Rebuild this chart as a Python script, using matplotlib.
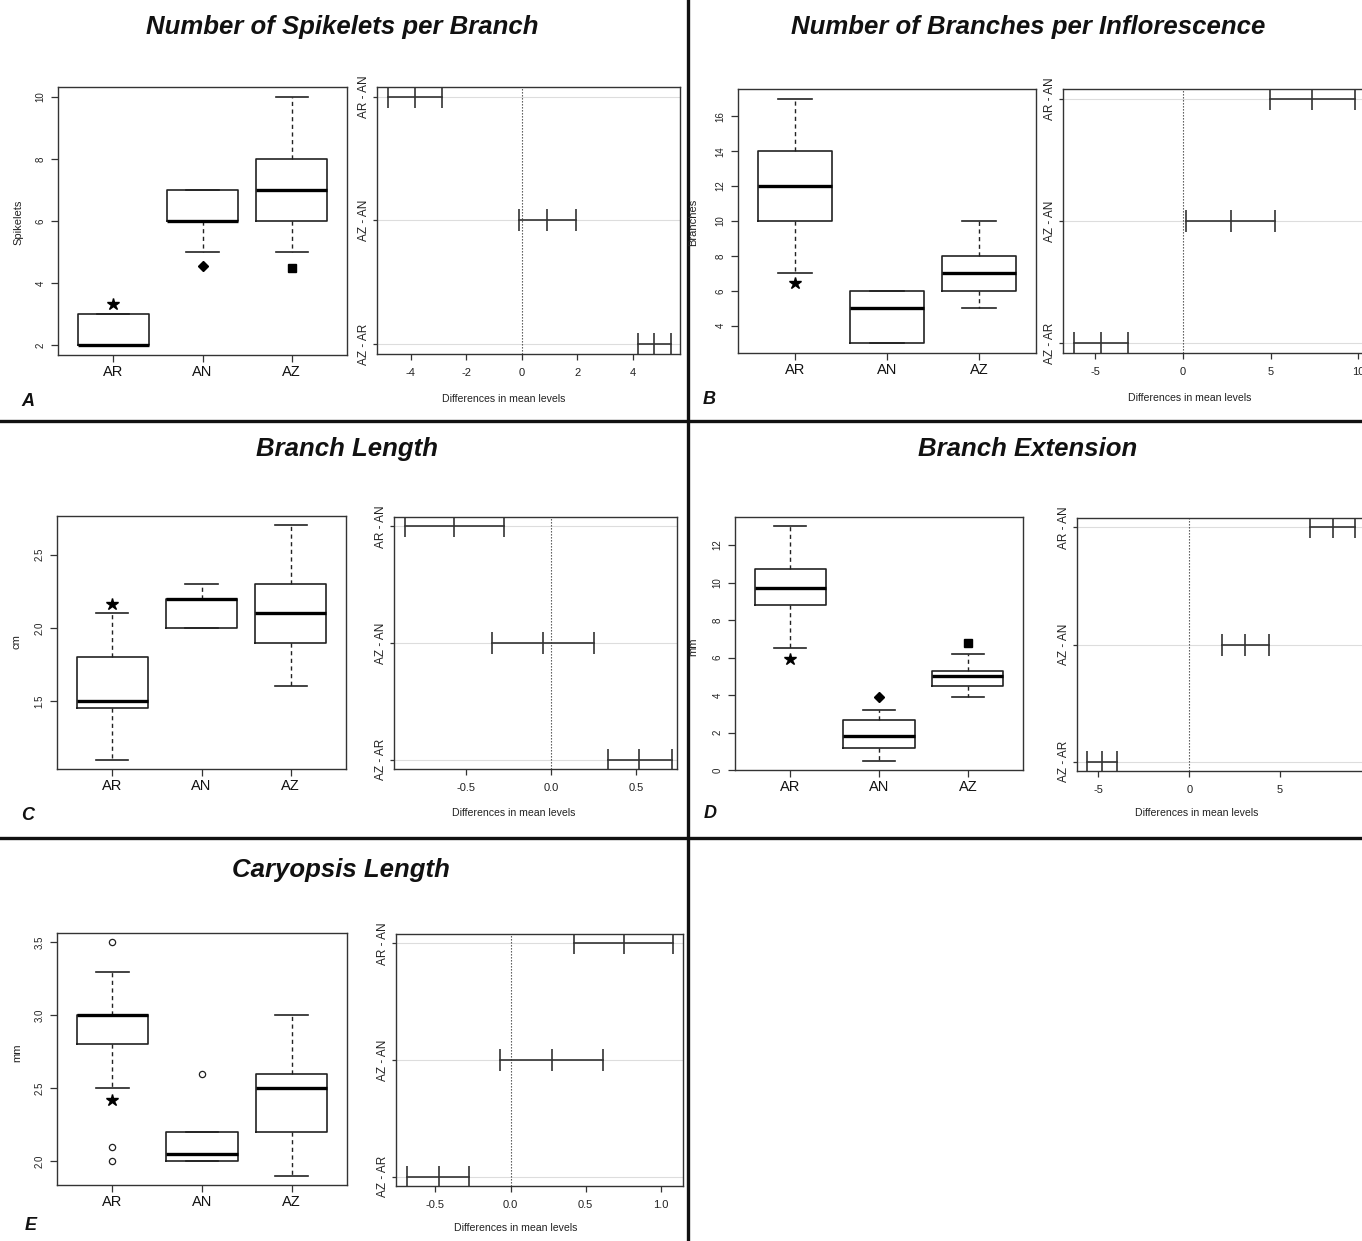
import matplotlib
matplotlib.use('Agg')
import matplotlib.pyplot as plt
from matplotlib.lines import Line2D
from matplotlib.ticker import FormatStrFormatter

plt.rcParams['font.family'] = ['Liberation Sans', 'DejaVu Sans']

W, H = 1362, 1241

groups = ["AR", "AN", "AZ"]
comparisons = ["AR - AN", "AZ - AN", "AZ - AR"]
marker_kinds = ["*", "D", "s"]

# ---------------- Panel A : Number of Spikelets per Branch ----------------
a_q1 = [2, 6, 6]
a_med = [2, 6, 7]
a_q3 = [3, 7, 8]
a_lo = [2, 5, 5]
a_hi = [3, 7, 10]
a_fliers = [[], [], []]
a_marks = [3.32, 4.55, 4.49]
a_lwr = [-4.83, -0.10, 4.17]
a_diff = [-3.85, 0.92, 4.78]
a_upr = [-2.87, 1.95, 5.38]

# ---------------- Panel B : Number of Branches per Inflorescence ----------
b_q1 = [10, 3, 6]
b_med = [12, 5, 7]
b_q3 = [14, 6, 8]
b_lo = [7, 3, 5]
b_hi = [17, 6, 10]
b_fliers = [[], [], []]
b_marks = [6.44, None, None]
b_lwr = [4.98, 0.17, -6.18]
b_diff = [7.36, 2.74, -4.66]
b_upr = [9.79, 5.27, -3.10]

# ---------------- Panel C : Branch Length ---------------------------------
c_q1 = [1.45, 2.0, 1.9]
c_med = [1.5, 2.2, 2.1]
c_q3 = [1.8, 2.2, 2.3]
c_lo = [1.1, 2.0, 1.6]
c_hi = [2.1, 2.3, 2.7]
c_fliers = [[], [], []]
c_marks = [2.16, None, None]
c_lwr = [-0.863, -0.351, 0.333]
c_diff = [-0.573, -0.049, 0.518]
c_upr = [-0.281, 0.251, 0.709]

# ---------------- Panel D : Branch Extension ------------------------------
d_q1 = [8.8, 1.18, 4.48]
d_med = [9.7, 1.84, 5.0]
d_q3 = [10.75, 2.68, 5.27]
d_lo = [6.5, 0.5, 3.9]
d_hi = [13.0, 3.2, 6.2]
d_fliers = [[], [], []]
d_marks = [5.9, 3.9, 6.8]
d_lwr = [6.66, 1.82, -5.61]
d_diff = [7.91, 3.08, -4.81]
d_upr = [9.14, 4.38, -3.99]

# ---------------- Panel E : Caryopsis Length ------------------------------
e_q1 = [2.8, 2.0, 2.2]
e_med = [3.0, 2.05, 2.5]
e_q3 = [3.0, 2.2, 2.6]
e_lo = [2.5, 2.0, 1.9]
e_hi = [3.3, 2.2, 3.0]
e_fliers = [[3.5, 2.1, 2.0], [2.6], []]
e_marks = [2.42, None, None]
e_lwr = [0.423, -0.069, -0.688]
e_diff = [0.753, 0.275, -0.480]
e_upr = [1.081, 0.614, -0.275]

titles = ["Number of Spikelets per Branch", "Number of Branches per Inflorescence",
          "Branch Length", "Branch Extension", "Caryopsis Length"]
ylabels = ["Spikelets", "Branches", "cm", "mm", "mm"]
letters = ["A", "B", "C", "D", "E"]

fig = plt.figure(figsize=(W / 100, H / 100), dpi=100)


def ax_px(l, t, r, b):
    return fig.add_axes([l / W, 1 - b / H, (r - l) / W, (b - t) / H])


def ftext(x, y, s, **kw):
    fig.text(x / W, 1 - y / H, s, **kw)


INK = '#222222'
GRID = '#dddddd'


def style_axes(ax):
    for sp in ax.spines.values():
        sp.set_color('#333333')
        sp.set_linewidth(1.0)


def boxpanel(box, q1, med, q3, lo, hi, fliers, marks, yticks, yfmt):
    ax = ax_px(*box)
    stats = []
    for i, g in enumerate(groups):
        stats.append(dict(med=med[i], q1=q1[i], q3=q3[i], whislo=lo[i], whishi=hi[i],
                          fliers=fliers[i], label=g))
    ax.bxp(stats, positions=[1, 2, 3], widths=0.8, capwidths=0.36, showfliers=True,
           boxprops=dict(color=INK, linewidth=1.2),
           whiskerprops=dict(color=INK, linewidth=1.0, linestyle=(0, (3, 2.5))),
           capprops=dict(color=INK, linewidth=1.2),
           medianprops=dict(color='black', linewidth=2.4),
           flierprops=dict(marker='o', markerfacecolor='none', markeredgecolor=INK,
                           markersize=4.5, markeredgewidth=0.9))
    sizes = {"*": 9, "D": 5.5, "s": 5.5}
    for i, m in enumerate(marks):
        if m is not None:
            k = marker_kinds[i]
            ax.plot([i + 1], [m], marker=k, color='black', markersize=sizes[k],
                    linestyle='none')
    ax.set_xlim(0.38, 3.62)
    lo_all = min(min(lo), min(min(f) if f else lo[0] for f in fliers),
                 min(m for m in marks if m is not None))
    hi_all = max(max(hi), max(max(f) if f else hi[0] for f in fliers),
                 max(m for m in marks if m is not None))
    span = hi_all - lo_all
    ax.set_ylim(lo_all - 0.04 * span, hi_all + 0.04 * span)
    ax.set_yticks(yticks)
    ax.yaxis.set_major_formatter(FormatStrFormatter(yfmt))
    ax.set_xticks([1, 2, 3])
    ax.set_xticklabels(groups)
    ax.tick_params(axis='x', length=5, width=0.9, color='#333333', labelsize=10.5,
                   pad=2, labelcolor='#111111')
    ax.tick_params(axis='y', length=5, width=0.9, color='#333333', labelsize=7,
                   pad=4, labelcolor='#222222')
    for lab in ax.get_yticklabels():
        lab.set_rotation(90)
        lab.set_va('center')
    style_axes(ax)
    return ax


def tukeypanel(box, lwr, diff, upr, xlim, xticks, xfmt):
    ax = ax_px(*box)
    ys = [3, 2, 1]
    for y in ys:
        ax.axhline(y, color=GRID, linewidth=0.8, zorder=0)
    ax.axvline(0, color='#444444', linewidth=0.8, linestyle=(0, (1.2, 1.5)), zorder=1)
    for i, y in enumerate(ys):
        ax.plot([lwr[i], upr[i]], [y, y], color='#333333', linewidth=1.2, zorder=2)
        ax.plot([lwr[i], diff[i], upr[i]], [y, y, y], linestyle='none', marker='|',
                markersize=16, markeredgewidth=1.2, color='#333333', zorder=3)
    ax.set_xlim(*xlim)
    ax.set_ylim(0.92, 3.08)
    ax.set_yticks(ys)
    ax.set_yticklabels(comparisons)
    ax.set_xticks(xticks)
    ax.xaxis.set_major_formatter(FormatStrFormatter(xfmt))
    ax.tick_params(axis='y', length=3, width=0.9, color='#333333', labelsize=8.5,
                   pad=2, labelcolor='#222222')
    ax.tick_params(axis='x', length=4, width=0.9, color='#333333', labelsize=8,
                   pad=6, labelcolor='#222222')
    for lab in ax.get_yticklabels():
        lab.set_rotation(90)
        lab.set_va('center')
    style_axes(ax)
    return ax


# Panel A
boxpanel((58, 87, 347, 355), a_q1, a_med, a_q3, a_lo, a_hi, a_fliers, a_marks,
         [2, 4, 6, 8, 10], '%d')
tukeypanel((377, 87, 680, 354), a_lwr, a_diff, a_upr, (-5.21, 5.70),
           [-4, -2, 0, 2, 4], '%d')
# Panel B
boxpanel((738, 89, 1036, 353), b_q1, b_med, b_q3, b_lo, b_hi, b_fliers, b_marks,
         [4, 6, 8, 10, 12, 14, 16], '%d')
tukeypanel((1063, 89, 1366, 353), b_lwr, b_diff, b_upr, (-6.82, 10.43),
           [-5, 0, 5, 10], '%d')
# Panel C
boxpanel((57, 516, 346, 769), c_q1, c_med, c_q3, c_lo, c_hi, c_fliers, c_marks,
         [1.5, 2.0, 2.5], '%.1f')
tukeypanel((394, 517, 677, 769), c_lwr, c_diff, c_upr, (-0.926, 0.739),
           [-0.5, 0.0, 0.5], '%.1f')
# Panel D
boxpanel((735, 517, 1023, 770), d_q1, d_med, d_q3, d_lo, d_hi, d_fliers, d_marks,
         [0, 2, 4, 6, 8, 10, 12], '%d')
tukeypanel((1077, 518, 1366, 771), d_lwr, d_diff, d_upr, (-6.18, 9.73),
           [-5, 0, 5], '%d')
# Panel E
boxpanel((57, 933, 347, 1185), e_q1, e_med, e_q3, e_lo, e_hi, e_fliers, e_marks,
         [2.0, 2.5, 3.0, 3.5], '%.1f')
tukeypanel((396, 934, 683, 1186), e_lwr, e_diff, e_upr, (-0.763, 1.148),
           [-0.5, 0.0, 0.5, 1.0], '%.1f')

# Titles
title_pos = [(342, 27), (1028, 27), (347, 449), (1028, 449), (341, 870)]
for (x, y), t in zip(title_pos, titles):
    ftext(x, y, t, ha='center', va='center', fontsize=18.5, fontweight='bold',
          fontstyle='italic', color='#111111')

# Y labels for box plots
ylab_pos = [(18, 222), (693, 222), (17, 642), (693, 647), (17, 1053)]
for (x, y), t in zip(ylab_pos, ylabels):
    ftext(x, y, t, ha='center', va='center', rotation=90, fontsize=8,
          color='#222222')

# X labels for Tukey plots
xlab_pos = [(504, 399), (1190, 398), (514, 813), (1197, 813), (516, 1228)]
for (x, y) in xlab_pos:
    ftext(x, y, "Differences in mean levels", ha='center', va='center', fontsize=7.6,
          color='#222222')

# Panel letters
let_pos = [(28, 402), (709, 400), (28, 815), (710, 813), (31, 1225)]
for (x, y), t in zip(let_pos, letters):
    ftext(x, y, t, ha='center', va='center', fontsize=13, fontweight='bold',
          fontstyle='italic', color='#111111')

# Separator lines
sep_kw = dict(color='#111111', linewidth=2.4, transform=fig.transFigure)
fig.add_artist(Line2D([688 / W, 688 / W], [0, 1], **sep_kw))
fig.add_artist(Line2D([0, 1], [1 - 421 / H, 1 - 421 / H], **sep_kw))
fig.add_artist(Line2D([0, 1], [1 - 838 / H, 1 - 838 / H], **sep_kw))

fig.savefig('out.png', dpi=100, facecolor='white')
